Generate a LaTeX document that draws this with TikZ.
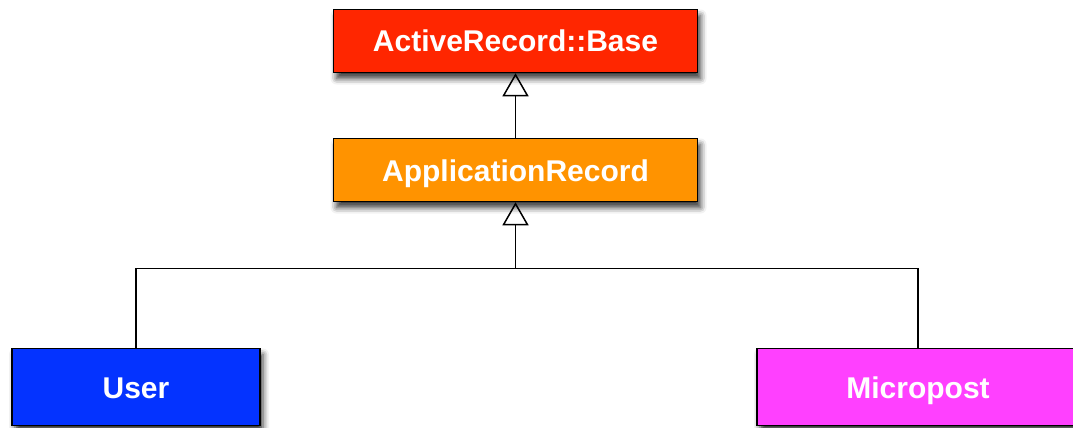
\documentclass[tikz,border=0pt]{standalone}
\usepackage{fontspec}
\setmainfont{Liberation Sans}
\usetikzlibrary{arrows.meta,shadows.blur}
\definecolor{crRed}{HTML}{FF2600}
\definecolor{crOrange}{HTML}{FF9300}
\definecolor{crBlue}{HTML}{0433FF}
\definecolor{crMagenta}{HTML}{FF40FF}
\tikzset{
  cls/.style={draw=black, line width=1.5pt, text=white, inner sep=0pt,
    text height=22pt, text depth=0pt,
    font=\fontsize{30}{36}\selectfont\bfseries,
    blur shadow={shadow xshift=3pt, shadow yshift=-6pt, shadow blur radius=6pt, shadow opacity=80}},
  inh/.style={line width=1.5pt, -{Triangle[open, length=23pt, width=26pt, line width=1.5pt]}},
  link/.style={line width=1.5pt}
}
\begin{document}
\begin{tikzpicture}[x=1pt,y=-1pt]
\useasboundingbox (0,0) rectangle (1073,428);
\clip (0,0) rectangle (1073,428);
\node[cls, fill=crRed, minimum width=364pt, minimum height=63pt] (arb) at (515.5,41) {ActiveRecord::Base};
\node[cls, fill=crOrange, minimum width=364pt, minimum height=63pt] (ar) at (515.5,170) {ApplicationRecord};
\node[cls, fill=crBlue, minimum width=248pt, minimum height=77pt] (user) at (136,387) {User};
\node[cls, fill=crMagenta, minimum width=322pt, minimum height=77pt] (mp) at (918,387) {Micropost};
\coordinate (j) at (515.5,268.5);
\draw[inh] (ar.north) -- (arb.south);
\draw[link] (user.north) |- (j) -| (mp.north);
\draw[inh] (j) -- (ar.south);
\end{tikzpicture}
\end{document}
